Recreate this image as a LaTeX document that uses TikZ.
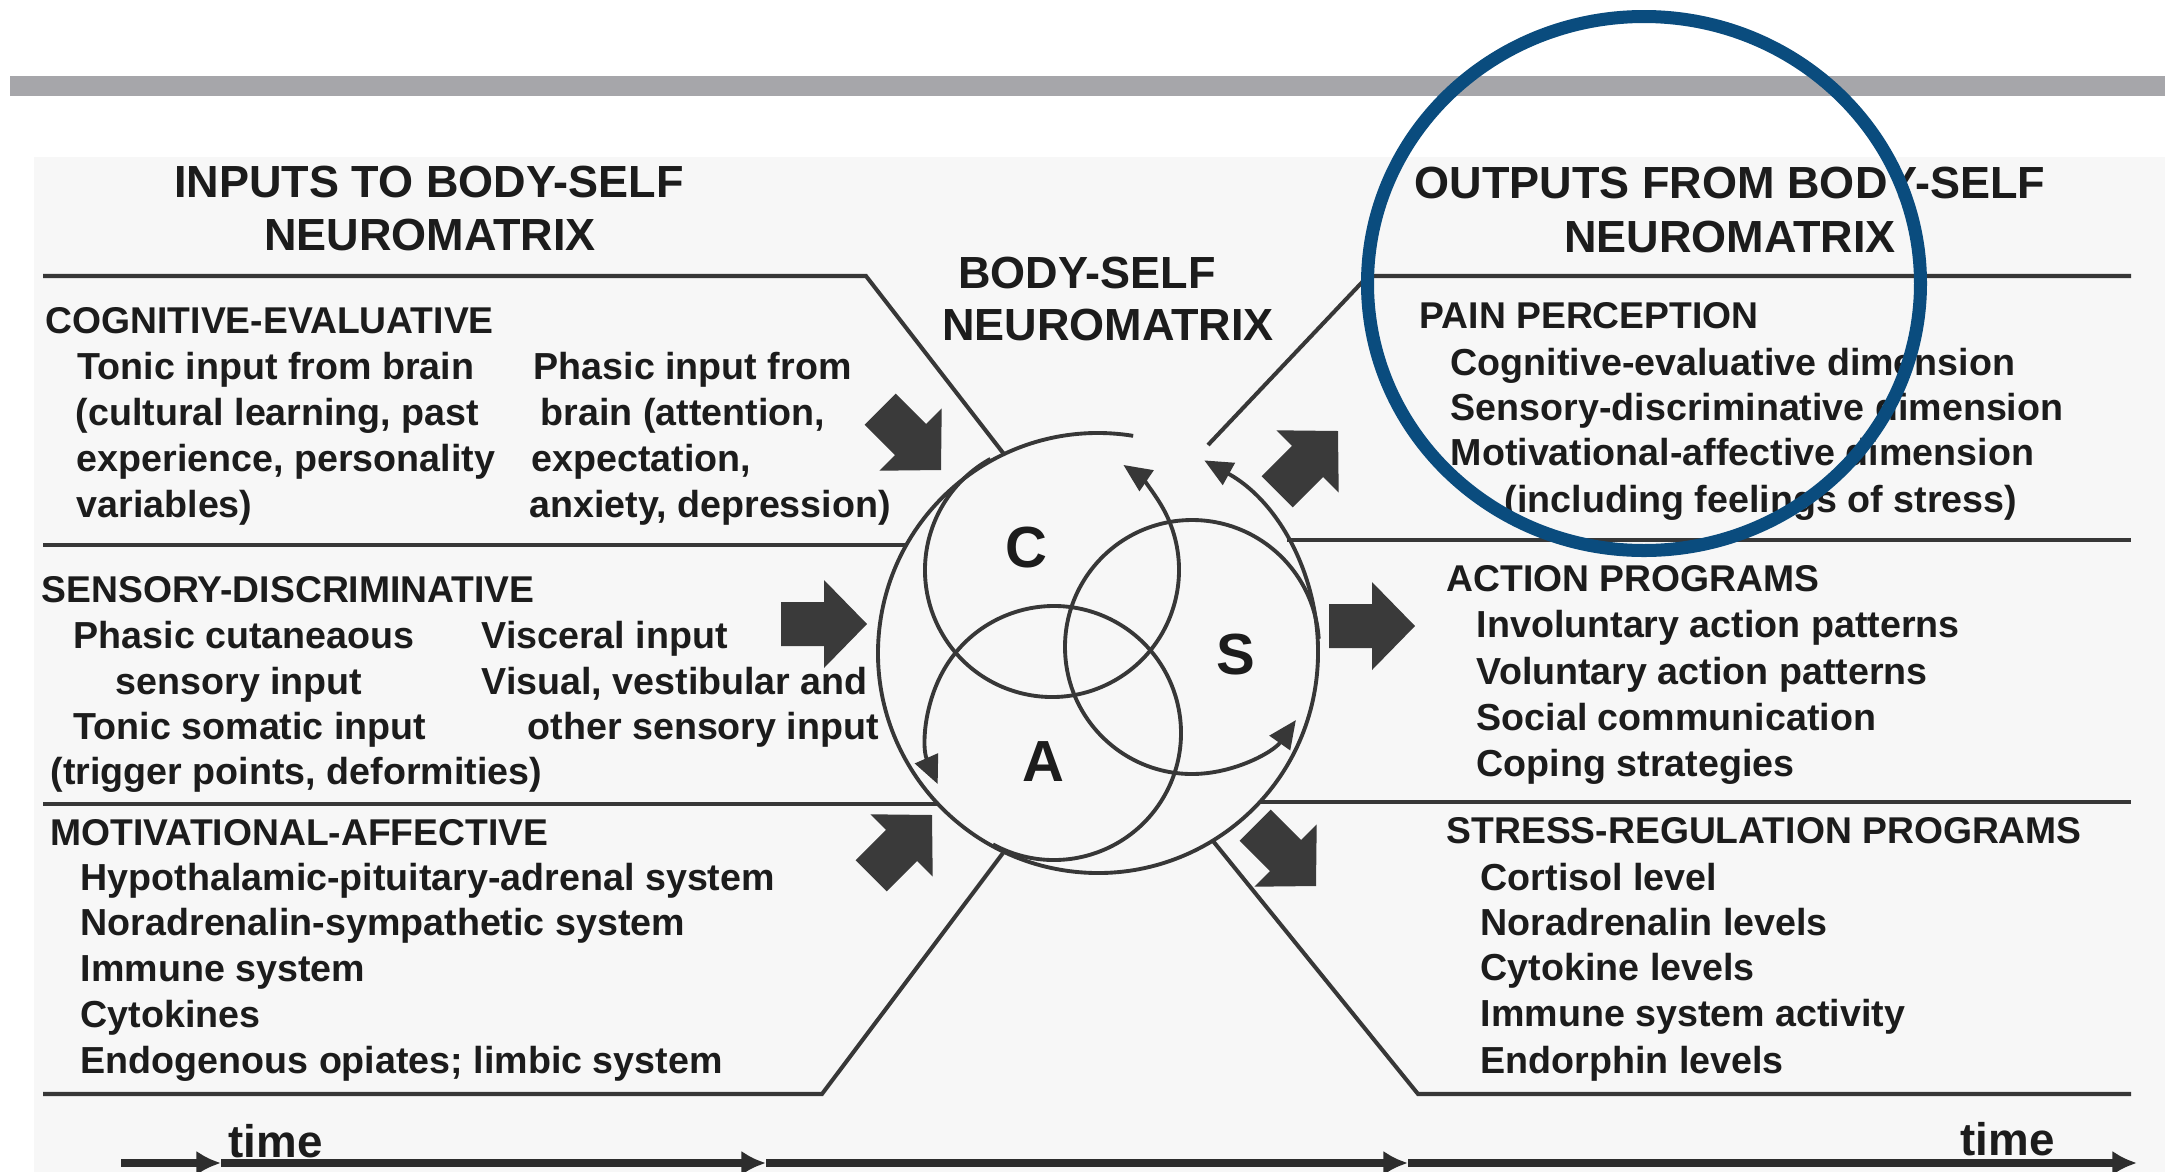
\documentclass[tikz,border=0pt]{standalone}
\usepackage{fontspec}
\setmainfont{Liberation Sans}
\usetikzlibrary{arrows.meta}
\definecolor{textC}{RGB}{28,28,28}
\definecolor{lineC}{RGB}{55,55,55}
\definecolor{arrowC}{RGB}{58,58,58}
\definecolor{axisC}{RGB}{45,45,45}
\definecolor{barC}{RGB}{166,166,170}
\definecolor{panelC}{RGB}{247,247,247}
\definecolor{blueC}{RGB}{10,76,126}
\tikzset{
 hdr/.style={font=\fontsize{12.8}{15}\selectfont\bfseries, text=textC, anchor=base, inner sep=0pt},
 sec/.style={font=\fontsize{10.6}{13}\selectfont\bfseries, text=textC, anchor=base west, inner sep=0pt},
 body/.style={font=\fontsize{10.7}{13}\selectfont\bfseries, text=textC, anchor=base west, inner sep=0pt},
 big/.style={font=\fontsize{16.5}{20}\selectfont\bfseries, text=textC, inner sep=0pt},
 timelbl/.style={font=\fontsize{13}{15}\selectfont\bfseries, text=textC, anchor=base west, inner sep=0pt},
 panel/.style={draw=lineC, line width=1.15pt},
 ring/.style={draw=lineC, line width=1.1pt, -{Triangle[length=8pt,width=7pt]}},
 timeax/.style={draw=axisC, line width=2pt, -{Latex[length=7pt,width=7pt]}},
 blockarrow/.pic={\fill[arrowC] (-86,-22) -- (-43,-22) -- (-43,-44) -- (0,0) -- (-43,44) -- (-43,22) -- (-86,22) -- cycle;},
}
\begin{document}
\begin{tikzpicture}[x=0.01cm,y=-0.01cm]
\useasboundingbox (0,0) rectangle (2165,1172);
\fill[white] (0,0) rectangle (2165,1172);
\fill[barC] (10,76) rectangle (2165,96);
\fill[panelC] (34,157) rectangle (2165,1172);

% headers
\node[hdr] (h1a) at (429,197) {INPUTS TO BODY-SELF};
\node[hdr] (h1b) at (430,250) {NEUROMATRIX};
\node[hdr] (h2a) at (1087,288) {BODY-SELF};
\node[hdr] (h2b) at (1108,340) {NEUROMATRIX};
\node[hdr] (h3a) at (1730,198) {OUTPUTS FROM BODY-SELF};
\node[hdr] (h3b) at (1730,252) {NEUROMATRIX};

% centre
\coordinate (O) at (1098,653);
\coordinate (Cc) at (1052,570);
\coordinate (Ac) at (1054,733);
\coordinate (Sc) at (1192,647);
\draw[ring] (O) ++(-80.8:220) arc[start angle=-80.8, end angle=-421.1, radius=220];
\draw[ring] (Cc) ++(-119:127) arc[start angle=-119, end angle=-415.8, radius=127];
\draw[ring] (Ac) ++(118.7:127) arc[start angle=118.7, end angle=-203.7, radius=127];
\draw[ring] (Sc) ++(-3.7:127) arc[start angle=-3.7, end angle=-324.9, radius=127];
\node[big] (lC) at (1026,548) {C};
\node[big] (lA) at (1043,762) {A};
\node[big] (lS) at (1236,655) {S};

% panel lines
\path (O) ++(-115.3:220) coordinate (cTL);
\coordinate (L1a) at (43,276); \coordinate (L1b) at (866,276);
\coordinate (L2a) at (43,545); \coordinate (L2b) at (906,545);
\coordinate (L3a) at (43,804); \coordinate (L3b) at (938,804);
\coordinate (L4a) at (43,1094); \coordinate (L4b) at (822,1094); \coordinate (L4c) at (1003,853);
\coordinate (R1a) at (2131,276); \coordinate (R1b) at (1368,276); \coordinate (R1c) at (1208,445);
\coordinate (R2a) at (1287,540); \coordinate (R2b) at (2131,540);
\coordinate (R3a) at (1260,802); \coordinate (R3b) at (2131,802);
\coordinate (R4a) at (1213,841); \coordinate (R4b) at (1418,1094); \coordinate (R4c) at (2131,1094);
\draw[panel] (L1a) -- (L1b) -- (cTL);
\draw[panel] (L2a) -- (L2b);
\draw[panel] (L3a) -- (L3b);
\draw[panel] (L4a) -- (L4b) -- (L4c);
\draw[panel] (R1a) -- (R1b) -- (R1c);
\draw[panel] (R2a) -- (R2b);
\draw[panel] (R3a) -- (R3b);
\draw[panel] (R4a) -- (R4b) -- (R4c);

% block arrows
\pic[rotate=-45] at (941,470) {blockarrow};
\pic at (867,624) {blockarrow};
\pic[rotate=45] at (932,815) {blockarrow};
\pic[rotate=45] at (1338,431) {blockarrow};
\pic at (1415,626) {blockarrow};
\pic[rotate=-45] at (1316,886) {blockarrow};

% left texts
\node[sec] (s1) at (45,333) {COGNITIVE-EVALUATIVE};
\node[body] (a1) at (77,379) {Tonic input from brain};
\node[body] (a2) at (75,425) {(cultural learning, past};
\node[body] (a3) at (76,471) {experience, personality};
\node[body] (a4) at (76,517) {variables)};
\node[body] (a5) at (533,379) {Phasic input from};
\node[body] (a6) at (540,425) {brain (attention,};
\node[body] (a7) at (531,471) {expectation,};
\node[body] (a8) at (529,517) {anxiety, depression)};

\node[sec] (s2) at (41,602) {SENSORY-DISCRIMINATIVE};
\node[body] (b1) at (73,648) {Phasic cutaneaous};
\node[body] (b2) at (115,694) {sensory input};
\node[body] (b3) at (73,739) {Tonic somatic input};
\node[body] (b4) at (50,784) {(trigger points, deformities)};
\node[body] (b5) at (481,648) {Visceral input};
\node[body] (b6) at (481,694) {Visual, vestibular and};
\node[body] (b7) at (527,739) {other sensory input};

\node[sec] (s3) at (50,845) {MOTIVATIONAL-AFFECTIVE};
\node[body] (c1) at (80,890) {Hypothalamic-pituitary-adrenal system};
\node[body] (c2) at (80,935) {Noradrenalin-sympathetic system};
\node[body] (c3) at (80,981) {Immune system};
\node[body] (c4) at (80,1027) {Cytokines};
\node[body] (c5) at (80,1073) {Endogenous opiates; limbic system};

% right texts
\node[sec] (s4) at (1419,328) {PAIN PERCEPTION};
\node[body] (d1) at (1450,375) {Cognitive-evaluative dimension};
\node[body] (d2) at (1450,420) {Sensory-discriminative dimension};
\node[body] (d3) at (1450,465) {Motivational-affective dimension};
\node[body] (d4) at (1504,512) {(including feelings of stress)};

\node[sec] (s5) at (1446,591) {ACTION PROGRAMS};
\node[body] (e1) at (1476,637) {Involuntary action patterns};
\node[body] (e2) at (1476,684) {Voluntary action patterns};
\node[body] (e3) at (1476,730) {Social communication};
\node[body] (e4) at (1476,776) {Coping strategies};

\node[sec] (s6) at (1446,843) {STRESS-REGULATION PROGRAMS};
\node[body] (f1) at (1480,890) {Cortisol level};
\node[body] (f2) at (1480,935) {Noradrenalin levels};
\node[body] (f3) at (1480,980) {Cytokine levels};
\node[body] (f4) at (1480,1026) {Immune system activity};
\node[body] (f5) at (1480,1073) {Endorphin levels};

% time axis
\coordinate (T0) at (121,1163);
\coordinate (T1) at (221,1163);
\coordinate (T2) at (766,1163);
\coordinate (T3) at (1408,1163);
\coordinate (T4) at (2137,1163);
\draw[timeax] (T0) -- (T1);
\draw[timeax] (T1) -- (T2);
\draw[timeax] (T2) -- (T3);
\draw[timeax] (T3) -- (T4);
\node[timelbl] (tm1) at (228,1157) {time};
\node[timelbl] (tm2) at (1960,1155) {time};

% blue highlight ellipse
\draw[blueC, line width=3.7pt] (1644,283.5) ellipse [x radius=276.5, y radius=267];
\end{tikzpicture}
\end{document}
